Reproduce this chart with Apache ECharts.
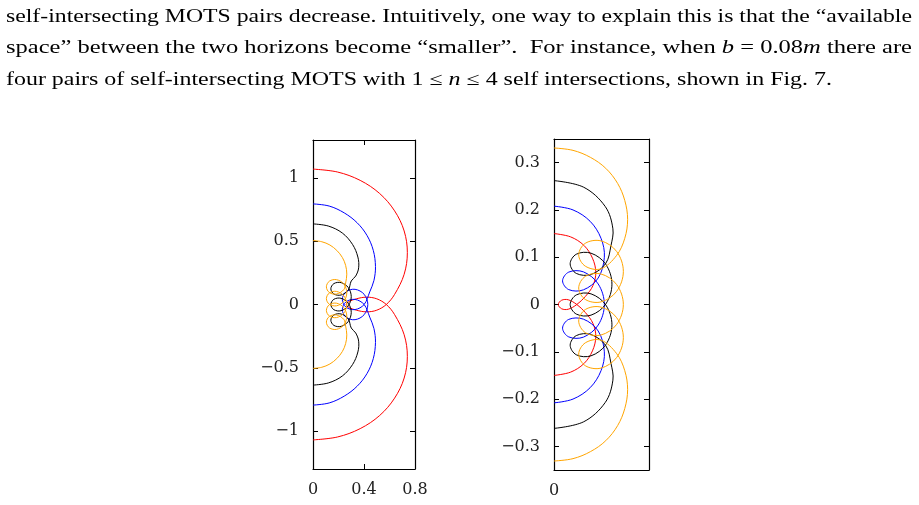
<!DOCTYPE html>
<html>
<head>
<meta charset="utf-8">
<script src="https://cdn.jsdelivr.net/npm/echarts@6.0.0/dist/echarts.min.js"></script>
<style>
  html, body { margin: 0; padding: 0; background: #fff; }
  #chart { width: 919px; height: 505px; }
</style>
</head>
<body>
<div id="chart"></div>
<script>
// upper halves of each curve, from the top of the axis to the symmetry point on y = 0
const leftRed = [[0,1.07],[0.192,1.047],[0.37,0.981],[0.523,0.877],[0.64,0.74],[0.715,0.581],[0.74,0.41],[0.715,0.239],[0.64,0.08],[0.575,0],[0.5,-0.045],[0.42,-0.058],[0.34,-0.045],[0.285,-0.024],[0.26,0]];
const leftBlue = [[0,0.795],[0.127,0.778],[0.245,0.724],[0.346,0.646],[0.424,0.545],[0.473,0.427],[0.49,0.3],[0.478,0.19],[0.445,0.1],[0.401,0],[0.33,-0.04],[0.259,-0.021],[0.23,0.04],[0.259,0.1007],[0.33,0.12],[0.401,0.0807],[0.43,0]];
const leftBlack = [[0,0.637],[0.12,0.62],[0.23,0.565],[0.31,0.475],[0.352,0.375],[0.358,0.29],[0.335,0.225],[0.3,0.186],[0.2766,0.114],[0.22,0.075],[0.1634,0.083],[0.14,0.124],[0.1634,0.165],[0.22,0.173],[0.2766,0.134],[0.3,0.062],[0.2766,-0.01],[0.22,-0.049],[0.1634,-0.041],[0.14,0]];
const leftOrange = [[0,0.505],[0.069,0.496],[0.1325,0.47],[0.187,0.427],[0.23,0.372],[0.256,0.309],[0.265,0.24],[0.256,0.17],[0.2416,0.1178],[0.185,0.0828],[0.1284,0.0945],[0.105,0.1395],[0.1284,0.1845],[0.185,0.1963],[0.2416,0.1612],[0.265,0.093],[0.2416,0.0248],[0.185,-0.0102],[0.1284,0.0015],[0.105,0.0465],[0.1284,0.0915],[0.185,0.1033],[0.2416,0.0682],[0.265,0]];

const rightRed = [[0,0.15],[0.035,0.143],[0.063,0.125],[0.081,0.098],[0.088,0.068],[0.082,0.04],[0.066,0.017],[0.048,0],[0.03,-0.01],[0.016,-0.009],[0.009,0]];
const rightBlue = [[0,0.208],[0.04,0.2],[0.076,0.176],[0.099,0.14],[0.106,0.1],[0.093,0.056],[0.062,0.031],[0.031,0.0315],[0.018,0.05],[0.031,0.0685],[0.062,0.069],[0.093,0.0435],[0.106,0]];
const rightBlack = [[0,0.262],[0.0625,0.248],[0.108,0.207],[0.124,0.16],[0.12,0.125],[0.109,0.087],[0.078,0.0635],[0.047,0.0657],[0.034,0.086],[0.047,0.1064],[0.078,0.1085],[0.109,0.085],[0.122,0.043],[0.109,0.001],[0.078,-0.0225],[0.047,-0.0203],[0.034,0]];
const rightOrange = [[0,0.331],[0.04,0.326],[0.077,0.311],[0.109,0.288],[0.134,0.256],[0.149,0.22],[0.155,0.18],[0.149,0.14],[0.132,0.104],[0.099,0.0755],[0.066,0.081],[0.052,0.105],[0.066,0.1295],[0.099,0.1345],[0.132,0.112],[0.146,0.07],[0.132,0.028],[0.099,0.0055],[0.066,0.0106],[0.052,0.035],[0.066,0.0595],[0.099,0.0645],[0.132,0.042],[0.146,0]];

const leftXTicks = [0, 0.4, 0.8];
const leftYTicks = [-1, -0.5, 0, 0.5, 1];
const rightXTicks = [0];
const rightYTicks = [-0.3, -0.2, -0.1, 0, 0.1, 0.2, 0.3];

// paragraph above the figure: [text, style] pieces, n = normal, i = italic, r = red
const textLines = [
  { y: 17, width: 906, parts: [["self-intersecting MOTS pairs decrease. Intuitively, one way to explain this is that the \u201cavailable", "n"]] },
  { y: 48.5, width: 906, parts: [["space\u201d between the two horizons become \u201csmaller\u201d.  For instance, when ", "n"], ["b", "i"], [" = 0.08", "n"], ["m", "i"], [" there are", "n"]] },
  { y: 80, width: 826, parts: [["four pairs of self-intersecting MOTS with 1 \u2264 ", "n"], ["n", "i"], [" \u2264 4 self intersections, shown in Fig. ", "n"], ["7", "r"], [".", "n"]] },
];

const serif = '"Liberation Serif", "DejaVu Serif", serif';
const textSize = 18;

function mirror(half) {
  const back = half.slice(0, -1).reverse().map((p) => [p[0], -p[1]]);
  return half.concat(back);
}

function tickLabel(v) {
  return v < 0 ? "\u2212" + (-v) : String(v);
}

const measure = document.createElement("canvas").getContext("2d");
function textWidth(parts) {
  let w = 0;
  parts.forEach(([s, k]) => {
    measure.font = (k === "i" ? "italic " : "") + textSize + "px " + serif;
    w += measure.measureText(s).width;
  });
  return w;
}

const graphics = textLines.map((line) => {
  const markup = line.parts.map(([s, k]) => "{" + k + "|" + s + "}").join("");
  return {
    type: "text",
    x: 6,
    y: line.y,
    scaleX: line.width / textWidth(line.parts),
    silent: true,
    style: {
      text: markup,
      verticalAlign: "middle",
      align: "left",
      rich: {
        n: { fontFamily: serif, fontSize: textSize, color: "#000" },
        i: { fontFamily: serif, fontSize: textSize, fontStyle: "italic", color: "#000" },
        r: { fontFamily: serif, fontSize: textSize, color: "#ff0000" },
      },
    },
  };
});

function xAxis(gridIndex, position, min, max, ticks, labels) {
  return {
    type: "value", gridIndex, position, min, max,
    axisLine: { onZero: false, lineStyle: { color: "#000", width: 1.2 } },
    axisTick: { inside: true, length: 5, customValues: ticks, lineStyle: { color: "#000" } },
    axisLabel: { show: labels, customValues: ticks, formatter: tickLabel, margin: 13,
      fontFamily: "DejaVu Serif", fontSize: 16, color: "#222" },
    splitLine: { show: false },
  };
}

function yAxis(gridIndex, position, min, max, ticks, labels) {
  return {
    type: "value", gridIndex, position, min, max,
    axisLine: { onZero: false, lineStyle: { color: "#000", width: 1.2 } },
    axisTick: { inside: true, length: 5, customValues: ticks, lineStyle: { color: "#000" } },
    axisLabel: { show: labels, customValues: ticks, formatter: tickLabel, margin: 14,
      fontFamily: "DejaVu Serif", fontSize: 16, color: "#222" },
    splitLine: { show: false },
  };
}

// each curve is one custom series; the whole path is drawn once, through the axis scales
function curve(half, color, axisIndex) {
  const pts = mirror(half);
  return {
    type: "custom", data: pts, silent: true,
    xAxisIndex: axisIndex, yAxisIndex: axisIndex,
    renderItem: (params, api) => {
      if (params.dataIndex !== 0) return null;
      return {
        type: "polyline",
        shape: { points: pts.map((p) => api.coord(p)), smooth: 0.35 },
        style: { stroke: color, fill: "none", lineWidth: 1 },
      };
    },
  };
}

const chart = echarts.init(document.getElementById("chart"));
chart.setOption({
  animation: false,
  backgroundColor: "#fff",
  grid: [
    { left: 313, top: 140, width: 102, height: 329 },
    { left: 554, top: 139, width: 95, height: 331 },
  ],
  xAxis: [
    xAxis(0, "bottom", 0, 0.8, leftXTicks, true),
    xAxis(0, "top", 0, 0.8, leftXTicks, false),
    xAxis(1, "bottom", 0, 0.2, rightXTicks, true),
    xAxis(1, "top", 0, 0.2, rightXTicks, false),
  ],
  yAxis: [
    yAxis(0, "left", -1.3, 1.3, leftYTicks, true),
    yAxis(0, "right", -1.3, 1.3, leftYTicks, false),
    yAxis(1, "left", -0.35, 0.35, rightYTicks, true),
    yAxis(1, "right", -0.35, 0.35, rightYTicks, false),
  ],
  series: [
    curve(leftRed, "#ff0000", 0),
    curve(leftBlue, "#0000ff", 0),
    curve(leftBlack, "#000000", 0),
    curve(leftOrange, "#ffa500", 0),
    curve(rightRed, "#ff0000", 2),
    curve(rightBlue, "#0000ff", 2),
    curve(rightBlack, "#000000", 2),
    curve(rightOrange, "#ffa500", 2),
  ],
  graphic: graphics,
});
</script>
</body>
</html>
